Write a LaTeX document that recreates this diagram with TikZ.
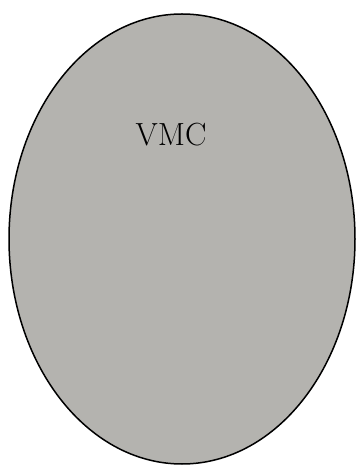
\documentclass[tikz,border=0pt]{standalone}
\usepackage{tikz}
\usetikzlibrary{shapes.geometric}
\definecolor{vmcgray}{RGB}{180,179,175}
\tikzset{
  region/.style={ellipse, draw=black, fill=vmcgray, line width=1.5pt, inner sep=0pt},
  label/.style={font=\fontsize{32}{36}\selectfont},
}

\begin{document}
\begin{tikzpicture}[x=1pt, y=1pt]
\useasboundingbox (0,0) rectangle (356,466);
\node[region, minimum width=346pt, minimum height=450pt] (vmc) at (182,227) {};
\node[label] (vmclabel) at (171,331) {VMC};
\end{tikzpicture}
\end{document}
